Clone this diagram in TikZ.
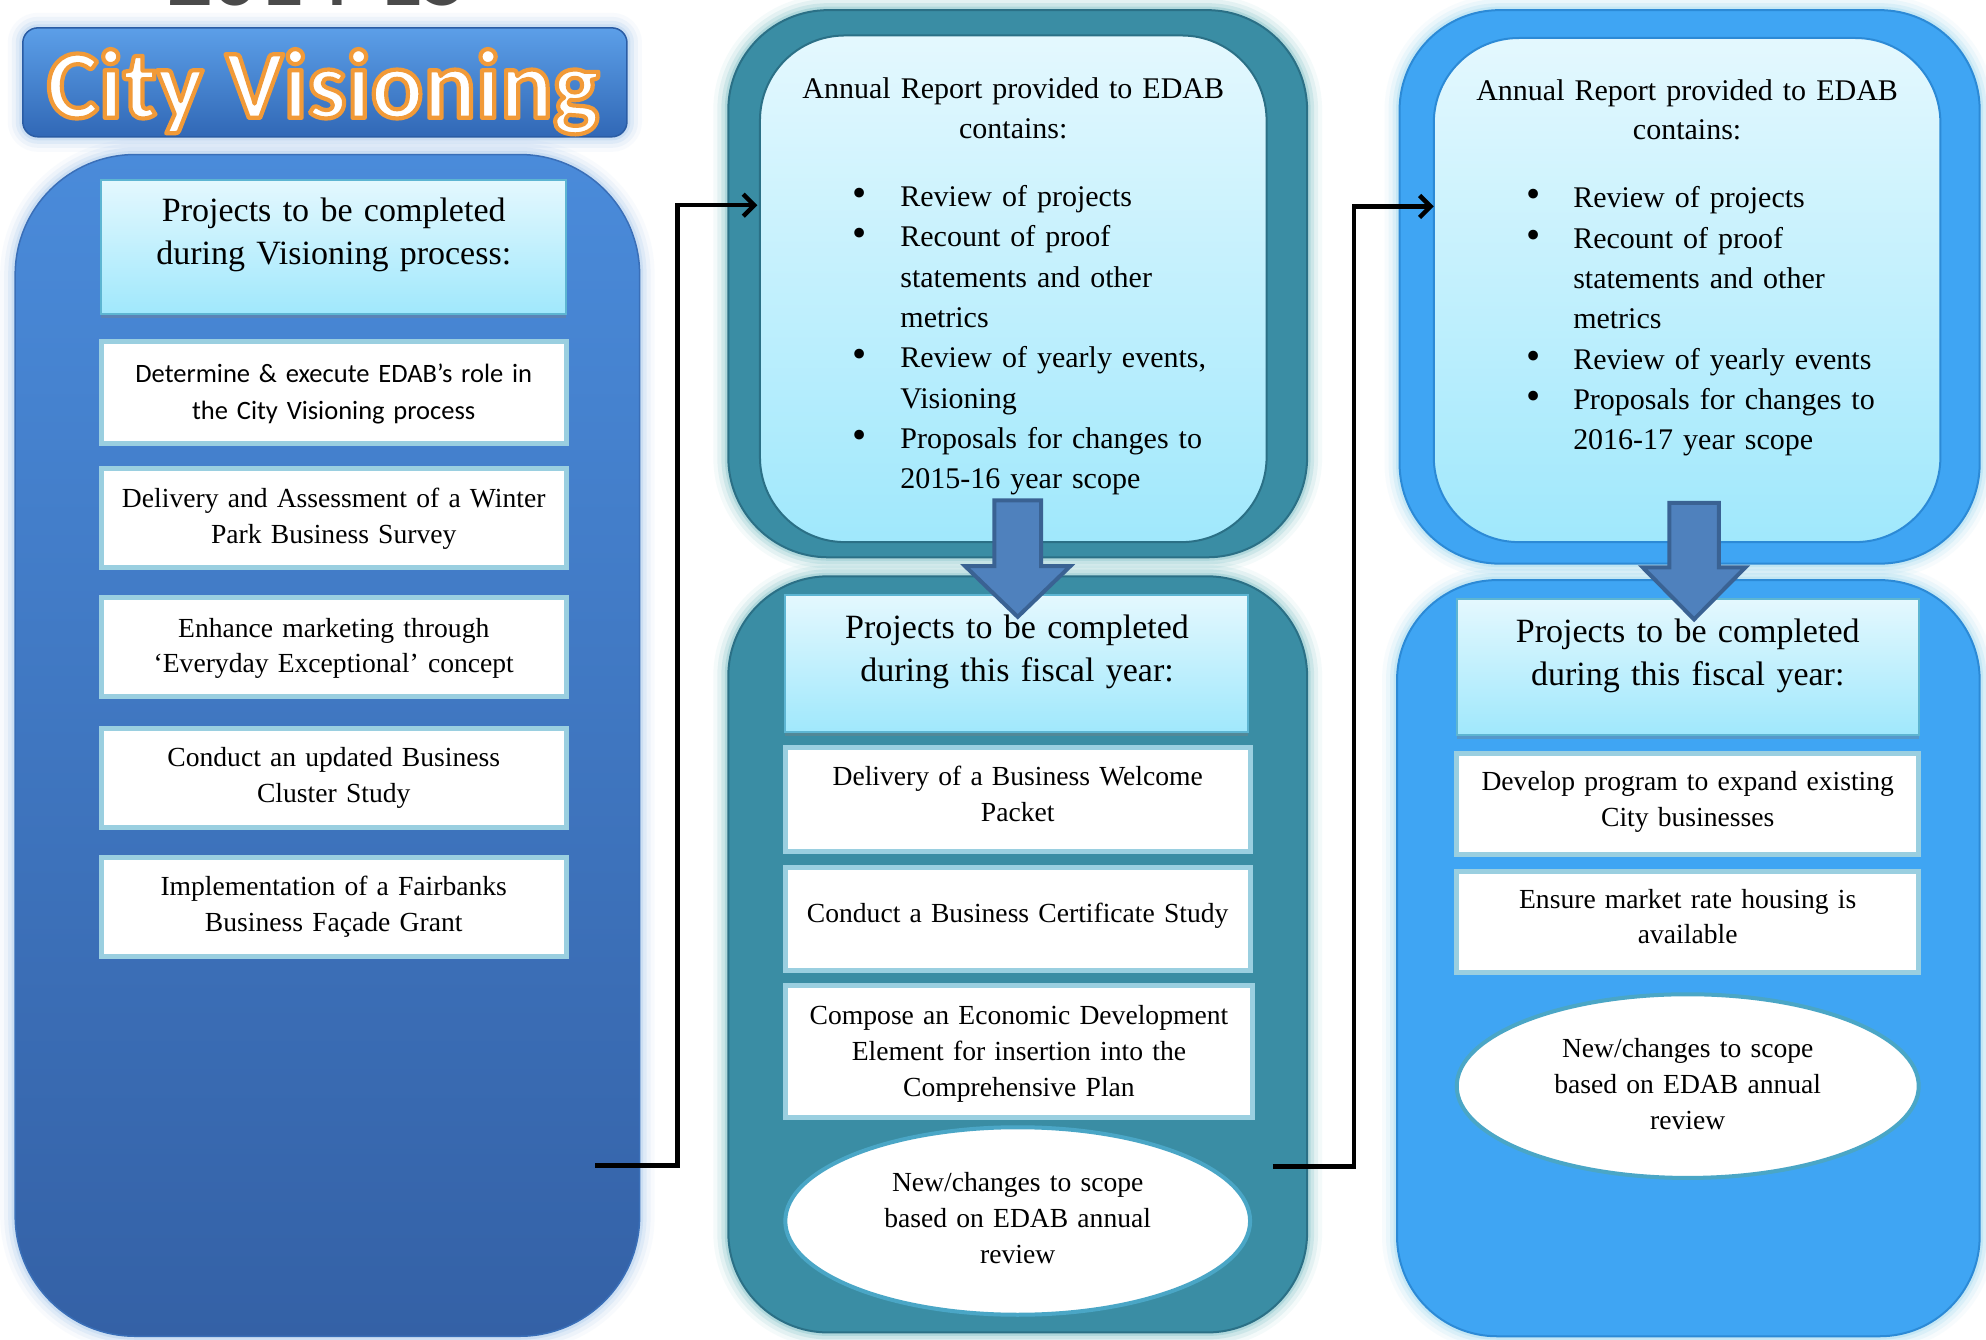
\documentclass[tikz,border=0pt]{standalone}
\usepackage{fontspec}
\setmainfont{Liberation Serif}
\newfontfamily\calfont{Carlito}
\usetikzlibrary{arrows.meta,shapes.geometric,shadows,fit}
\definecolor{lpTop}{HTML}{4A8BDA}
\definecolor{lpBot}{HTML}{3461A6}
\definecolor{lpBorder}{HTML}{3A6FB8}
\definecolor{lpGlow}{HTML}{8FB8E8}
\definecolor{tlTop}{HTML}{5C9FE8}
\definecolor{tlBot}{HTML}{3168B6}
\definecolor{tlBorder}{HTML}{2A5CA4}
\definecolor{mFill}{HTML}{3A8DA4}
\definecolor{mBorder}{HTML}{2B7086}
\definecolor{mGlow}{HTML}{4FAAB4}
\definecolor{rFill}{HTML}{3FA5F3}
\definecolor{rBorder}{HTML}{2C8AD6}
\definecolor{rGlow}{HTML}{7CCBEB}
\definecolor{lightTop}{HTML}{E4F8FE}
\definecolor{lightBot}{HTML}{A0E8FC}
\definecolor{itemBorder}{HTML}{9ACFE0}
\definecolor{hdrBorder}{HTML}{5DB5D2}
\definecolor{ellBorder}{HTML}{4AA6C6}
\definecolor{arrFill}{HTML}{4F81BD}
\definecolor{arrBorder}{HTML}{3A6293}
\definecolor{yearGray}{HTML}{4A4A4A}
\newcommand\myHdr{\fontsize{34}{43}\selectfont}
\newcommand\myItem{\fontsize{27.6}{35.8}\selectfont}
\newcommand\myCal{\calfont\fontsize{26.5}{37}\selectfont}
\newcommand\myAnn{\fontsize{30}{39.3}\selectfont}
\newcommand\myBul{\fontsize{30}{40.35}\selectfont}
\newcommand\bigbul{\scalebox{1.35}{\textbullet}}
\newcommand\bM{\makebox[48pt][l]{\bigbul}}
\newcommand\iM{\hspace*{48pt}}
\newcommand\bR{\makebox[47pt][l]{\bigbul}}
\newcommand\iR{\hspace*{47pt}}
% outlined text: white fill with orange stroke (PDF text render mode 2)
\newcommand\outlined[1]{\special{pdf:literal direct 0.945 0.604 0.22 RG 4.2 w 1 j 2 Tr}#1\special{pdf:literal direct 0 Tr}}
\tikzset{
  box/.style={inner sep=0pt, outer sep=0pt},
  panelL/.style={box, rounded corners=120pt, top color=lpTop, bottom color=lpBot, draw=lpBorder, line width=1.5pt},
  panelM/.style={box, rounded corners=100pt, fill=mFill, draw=mBorder, line width=2pt},
  panelR/.style={box, rounded corners=100pt, fill=rFill, draw=rBorder, line width=2pt},
  lightbox/.style={box, rounded corners=85pt, top color=lightTop, bottom color=lightBot, draw=#1, line width=2pt},
  hdrbox/.style={box, top color=lightTop, bottom color=lightBot, draw=hdrBorder, line width=2pt,
     drop shadow={opacity=0.35, shadow xshift=0pt, shadow yshift=-4pt}},
  itembox/.style={box, fill=white, draw=itemBorder, line width=5pt},
  ellbox/.style={box, ellipse, fill=white, draw=ellBorder, line width=4pt},
  txt/.style={inner sep=0pt, outer sep=0pt, align=center, text width=#1, anchor=base},
  bul/.style={inner sep=0pt, outer sep=0pt, align=left, text width=480pt, anchor=base west, font=\myBul},
  conn/.style={draw=black, line width=4.5pt, -{Straight Barb[length=11pt,width=22pt]}},
  blockarrow/.style={fill=arrFill, draw=arrBorder, line width=4pt, line join=miter},
  titletext/.style={inner sep=0pt, anchor=base, font=\calfont\bfseries\fontsize{98}{98}\selectfont}
}
\begin{document}
\begin{tikzpicture}[x=1.2666pt,y=-1.2666pt]
\useasboundingbox (0,0) rectangle (1568,1057.2);
\fill[white] (0,0) rectangle (1568,1057.2);

% cut-off year label at the very top
\node[anchor=base, inner sep=0pt, font=\calfont\bfseries\fontsize{90}{90}\selectfont, text=yearGray] (year) at (251,4) {2014-15};

% ---------- glows ----------
\foreach \w/\o in {30/0.06,22/0.10,14/0.15,7/0.22}{
  \draw[lpGlow, line width=\w pt, opacity=\o, rounded corners=15pt] (18,22) rectangle (495,108);
  \draw[lpGlow, line width=\w pt, opacity=\o, rounded corners=120pt] (12,122) rectangle (505,1055);
  \draw[mGlow, line width=\w pt, opacity=\o, rounded corners=100pt] (575,8) rectangle (1032,440);
  \draw[mGlow, line width=\w pt, opacity=\o, rounded corners=100pt] (575,455) rectangle (1032,1052);
  \draw[rGlow, line width=\w pt, opacity=\o, rounded corners=100pt] (1105,8) rectangle (1563,445);
  \draw[rGlow, line width=\w pt, opacity=\o, rounded corners=100pt] (1103,458) rectangle (1563,1055);
}

% ---------- title ----------
\node[box, rounded corners=15pt, top color=tlTop, bottom color=tlBot, draw=tlBorder, line width=1.5pt,
      fit={(18,22) (495,108)}] (titlebox) {};
\node[titletext, text=white] (title) at (255,93) {\outlined{City Visioning}};

% ---------- left panel ----------
\node[panelL, fit={(12,122) (505,1055)}] (left) {};
\node[hdrbox, fit={(80,142) (447,248)}] (lhdr) {};
\node[txt=470pt, font=\myHdr] (lhdrt) at (263.5,175) {Projects to be completed\\during Visioning process:};
\node[itembox, fit={(80,270) (447,350)}] (l1) {};
\node[txt=460pt, font=\myCal] (l1t) at (263.5,302) {Determine \& execute EDAB’s role in\\the City Visioning process};
\node[itembox, fit={(80,370) (447,448)}] (l2) {};
\node[txt=460pt, font=\myItem] (l2t) at (263.5,401) {Delivery and Assessment of a Winter\\Park Business Survey};
\node[itembox, fit={(80,472) (447,550)}] (l3) {};
\node[txt=460pt, font=\myItem] (l3t) at (263.5,503) {Enhance marketing through\\‘Everyday Exceptional’ concept};
\node[itembox, fit={(80,575) (447,653)}] (l4) {};
\node[txt=460pt, font=\myItem] (l4t) at (263.5,605) {Conduct an updated Business\\Cluster Study};
\node[itembox, fit={(80,677) (447,755)}] (l5) {};
\node[txt=460pt, font=\myItem] (l5t) at (263.5,707) {Implementation of a Fairbanks\\Business Façade Grant};

% ---------- middle panels ----------
\node[panelM, fit={(575,8) (1032,440)}] (mtop) {};
\node[lightbox=mBorder, fit={(600,28) (1000,428)}] (mrep) {};
\node[txt=480pt, font=\myAnn] (mrept) at (800,78) {Annual Report provided to EDAB\\contains:};
\node[bul] (mbul) at (673,163) {\bM Review of projects\\\bM Recount of proof\\\iM statements and other\\\iM metrics\\\bM Review of yearly events,\\\iM Visioning\\\bM Proposals for changes to\\\iM 2015-16 year scope};

\node[panelM, fit={(575,455) (1032,1052)}] (mbot) {};
\node[hdrbox, fit={(620,470) (985,578)}] (mhdr) {};
\node[itembox, fit={(620,590) (987,672)}] (m1) {};
\node[txt=460pt, font=\myItem] (m1t) at (803.5,620) {Delivery of a Business Welcome\\Packet};
\node[itembox, fit={(620,685) (987,766)}] (m2) {};
\node[txt=460pt, font=\myItem] (m2t) at (803.5,728) {Conduct a Business Certificate Study};
\node[itembox, fit={(620,778) (989,882)}] (m3) {};
\node[txt=460pt, font=\myItem] (m3t) at (804.5,809) {Compose an Economic Development\\Element for insertion into the\\Comprehensive Plan};
\node[ellbox, minimum width=464.8pt, minimum height=187.5pt] (mell) at (803.5,964) {};
\node[txt=460pt, font=\myItem] (mellt) at (803.5,941) {New/changes to scope\\based on EDAB annual\\review};

% ---------- right panels ----------
\node[panelR, fit={(1105,8) (1563,445)}] (rtop) {};
\node[lightbox=rBorder, fit={(1132,30) (1532,428)}] (rrep) {};
\node[txt=480pt, font=\myAnn] (rrept) at (1332,79) {Annual Report provided to EDAB\\contains:};
\node[bul] (rbul) at (1205,164) {\bR Review of projects\\\bR Recount of proof\\\iR statements and other\\\iR metrics\\\bR Review of yearly events\\\bR Proposals for changes to\\\iR 2016-17 year scope};

\node[panelR, fit={(1103,458) (1563,1055)}] (rbot) {};
\node[hdrbox, fit={(1150,473) (1515,580)}] (rhdr) {};
\node[itembox, fit={(1150,595) (1515,675)}] (r1) {};
\node[txt=460pt, font=\myItem] (r1t) at (1332.5,624) {Develop program to expand existing\\City businesses};
\node[itembox, fit={(1150,688) (1515,768)}] (r2) {};
\node[txt=460pt, font=\myItem] (r2t) at (1332.5,717) {Ensure market rate housing is\\available};
\node[ellbox, minimum width=462pt, minimum height=183.7pt] (rell) at (1332.5,857.5) {};
\node[txt=460pt, font=\myItem] (rellt) at (1332.5,835) {New/changes to scope\\based on EDAB annual\\review};

% ---------- block arrows (drawn over header boxes) ----------
\draw[blockarrow] (785,395) -- (822,395) -- (822,447) -- (845,447) -- (803.5,487) -- (762,447) -- (785,447) -- cycle;
\draw[blockarrow] (1318,397) -- (1357,397) -- (1357,448) -- (1378,448) -- (1337.5,489) -- (1297,448) -- (1318,448) -- cycle;

% header texts above arrows
\node[txt=470pt, font=\myHdr] (mhdrt) at (803,504) {Projects to be completed\\during this fiscal year:};
\node[txt=470pt, font=\myHdr] (rhdrt) at (1332.5,507) {Projects to be completed\\during this fiscal year:};

% ---------- connectors ----------
\coordinate (c1s) at (470,920);
\coordinate (c1e) at (598,162);
\coordinate (c2s) at (1005,921);
\coordinate (c2e) at (1132,163);
\draw[conn] (c1s) -- (535,920) |- (c1e);
\draw[conn] (c2s) -- (1069,921) |- (c2e);
\end{tikzpicture}
\end{document}
